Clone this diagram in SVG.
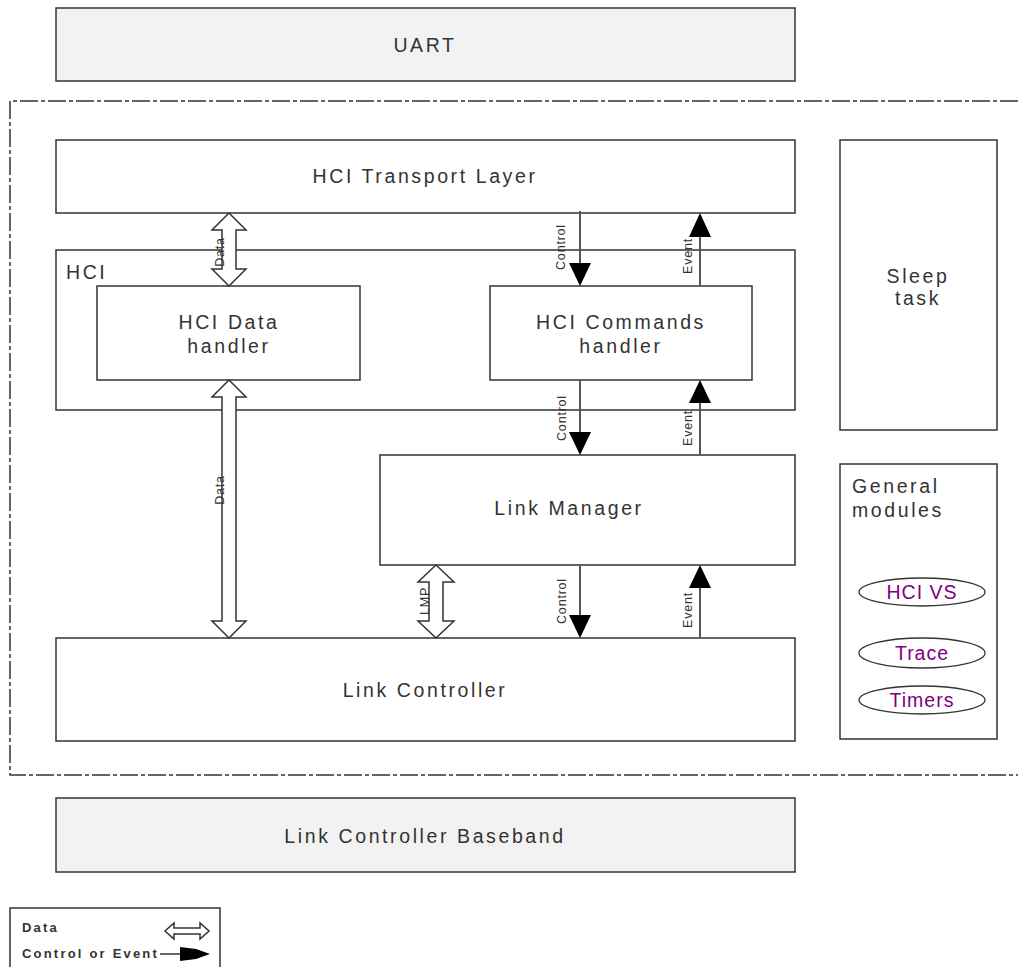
<svg xmlns="http://www.w3.org/2000/svg" width="1018" height="967" viewBox="0 0 1018 967">
<style>
.box{fill:#fff;stroke:#333;stroke-width:1.5}
.gbox{fill:#f2f2f2;stroke:#333;stroke-width:1.5}
.t{font-family:"Liberation Sans",Arial,sans-serif;font-size:19.5px;letter-spacing:2.6px;fill:#333}
.c{text-anchor:middle}
.s{font-family:"Liberation Sans",Arial,sans-serif;font-size:12.5px;letter-spacing:0.8px;fill:#333;text-anchor:middle;dominant-baseline:central}
.p{font-family:"Liberation Sans",Arial,sans-serif;font-size:19.5px;letter-spacing:1px;fill:#800080;text-anchor:middle}
.dbl{fill:#fff;stroke:#333;stroke-width:1.5;stroke-linejoin:miter}
.ln{stroke:#555;stroke-width:2;fill:none}
.hd{fill:#000}
.lg{font-family:"Liberation Sans",Arial,sans-serif;font-size:13px;font-weight:bold;letter-spacing:2.2px;fill:#333}
</style>
<rect width="1018" height="967" fill="#fff"/>
<g id="frame"><path d="M1018,101 L10,101 L10,775 L1018,775" fill="none" stroke="#333" stroke-width="1.5" stroke-dasharray="18 3 4 3"/></g>
<g id="uart"><rect class="gbox" x="56" y="8" width="739" height="73"/><text class="t c" x="425" y="52">UART</text></g>
<g id="transport"><rect class="box" x="56" y="140" width="739" height="73"/><text class="t c" x="425" y="183">HCI Transport Layer</text></g>
<g id="hci"><rect class="box" x="56" y="250" width="739" height="160"/><text class="t" x="66" y="279">HCI</text></g>
<g id="datahandler"><rect class="box" x="97" y="286" width="263" height="94"/><text class="t c" x="229" y="329">HCI Data</text><text class="t c" x="229" y="353">handler</text></g>
<g id="cmdhandler"><rect class="box" x="490" y="286" width="262" height="94"/><text class="t c" x="621" y="329">HCI Commands</text><text class="t c" x="621" y="353">handler</text></g>
<g id="sleep"><rect class="box" x="840" y="140" width="157" height="290"/><text class="t c" x="918" y="283">Sleep</text><text class="t c" x="918" y="305">task</text></g>
<g id="linkmanager"><rect class="box" x="380" y="455" width="415" height="110"/><text class="t c" x="569" y="515">Link Manager</text></g>
<g id="general"><rect class="box" x="840" y="464" width="157" height="275"/><text class="t" x="852" y="493">General</text><text class="t" x="852" y="517">modules</text>
<ellipse cx="922" cy="592" rx="63" ry="14" fill="#fff" stroke="#333" stroke-width="1.3"/><text class="p" x="922" y="599">HCI VS</text>
<ellipse cx="922" cy="653" rx="63" ry="15" fill="#fff" stroke="#333" stroke-width="1.3"/><text class="p" x="922" y="660">Trace</text>
<ellipse cx="922" cy="700" rx="63" ry="14" fill="#fff" stroke="#333" stroke-width="1.3"/><text class="p" x="922" y="707">Timers</text></g>
<g id="linkcontroller"><rect class="box" x="56" y="638" width="739" height="103"/><text class="t c" x="425" y="697">Link Controller</text></g>
<g id="baseband"><rect class="gbox" x="56" y="798" width="739" height="74"/><text class="t c" x="425" y="843">Link Controller Baseband</text></g>
<g id="connectors">
<path class="dbl" d="M229,213 L246,230 L236,230 L236,269 L246,269 L229,286 L212,269 L222,269 L222,230 L212,230 Z"/>
<text class="s" transform="rotate(-90 220 252)" x="220" y="252">Data</text>
<path class="dbl" d="M229,380 L246,397 L236,397 L236,621 L246,621 L229,638 L212,621 L222,621 L222,397 L212,397 Z"/>
<text class="s" transform="rotate(-90 220 490)" x="220" y="490">Data</text>
<path class="dbl" d="M436,565 L454,582 L443,582 L443,621 L454,621 L436,638 L418,621 L429,621 L429,582 L418,582 Z"/>
<text class="s" transform="rotate(-90 425 601)" x="425" y="601">LMP</text>
<line class="ln" x1="580" y1="211" x2="580" y2="266"/><path class="hd" d="M569,263 L591,263 L580,286 Z"/>
<text class="s" transform="rotate(-90 561 247)" x="561" y="247">Control</text>
<line class="ln" x1="700" y1="286" x2="700" y2="235"/><path class="hd" d="M689,237 L711,237 L700,213 Z"/>
<text class="s" transform="rotate(-90 688 256)" x="688" y="256">Event</text>
<line class="ln" x1="580" y1="380" x2="580" y2="435"/><path class="hd" d="M569,432 L591,432 L580,455 Z"/>
<text class="s" transform="rotate(-90 562 418)" x="562" y="418">Control</text>
<line class="ln" x1="700" y1="455" x2="700" y2="401"/><path class="hd" d="M689,403 L711,403 L700,380 Z"/>
<text class="s" transform="rotate(-90 688 428)" x="688" y="428">Event</text>
<line class="ln" x1="580" y1="565" x2="580" y2="618"/><path class="hd" d="M569,615 L591,615 L580,638 Z"/>
<text class="s" transform="rotate(-90 562 601)" x="562" y="601">Control</text>
<line class="ln" x1="700" y1="638" x2="700" y2="586"/><path class="hd" d="M689,588 L711,588 L700,565 Z"/>
<text class="s" transform="rotate(-90 688 610)" x="688" y="610">Event</text>
</g>
<g id="legend"><rect x="10" y="908" width="210" height="70" fill="#fff" stroke="#333" stroke-width="1.5"/>
<text class="lg" x="22" y="932">Data</text><text class="lg" x="22" y="958">Control or Event</text>
<path class="dbl" d="M165,931 L174,923 L174,928 L200,928 L200,923 L209,931 L200,939 L200,934 L174,934 L174,939 Z" stroke-width="1.2"/>
<line x1="160" y1="954" x2="185" y2="954" stroke="#333" stroke-width="1.5"/>
<path class="hd" d="M180,947 L196,949 L210,954 L196,959 L180,961 Z"/>
</g>
</svg>
